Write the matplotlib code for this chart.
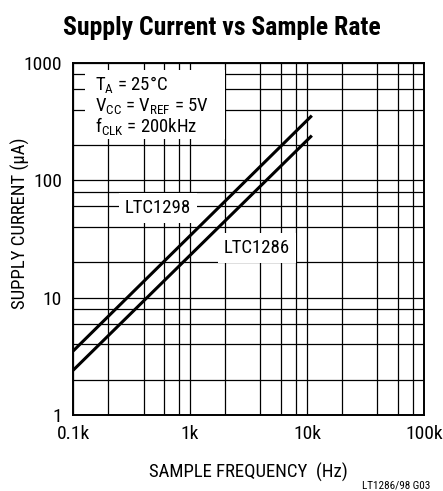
import matplotlib
matplotlib.use('Agg')
import matplotlib.pyplot as plt
from matplotlib.patches import Rectangle
from matplotlib.ticker import FixedLocator, NullFormatter

plt.rcParams['font.family'] = ['Roboto Condensed', 'Liberation Sans', 'DejaVu Sans']
plt.rcParams['mathtext.fontset'] = 'custom'
plt.rcParams['mathtext.rm'] = 'Roboto Condensed'

# data
freq_hz = [100, 11000]
ltc1298_ua = [3.5, 355]
ltc1286_ua = [2.4, 240]

x_ticks = [100, 1000, 10000, 100000]
x_ticklabels = ['0.1k', '1k', '10k', '100k']
y_ticks = [1, 10, 100, 1000]
y_ticklabels = ['1', '10', '100', '1000']
minor_mult = [2, 4, 6, 8]

conditions = ['T$_\\mathregular{A}$ = 25°C',
              'V$_\\mathregular{CC}$ = V$_\\mathregular{REF}$ = 5V',
              'f$_\\mathregular{CLK}$ = 200kHz']

fig = plt.figure(figsize=(4.43, 4.91), dpi=100)
ax = fig.add_axes([0.165, 0.155, 0.792, 0.717])

ax.plot(freq_hz, ltc1298_ua, color='black', lw=2.2, solid_capstyle='butt', zorder=4)
ax.plot(freq_hz, ltc1286_ua, color='black', lw=2.2, solid_capstyle='butt', zorder=4)

ax.set_xscale('log')
ax.set_yscale('log')
ax.set_xlim(100, 100000)
ax.set_ylim(1, 1000)

ax.xaxis.set_major_locator(FixedLocator(x_ticks))
ax.yaxis.set_major_locator(FixedLocator(y_ticks))
ax.xaxis.set_minor_locator(FixedLocator([m * d for d in x_ticks[:-1] for m in minor_mult]))
ax.yaxis.set_minor_locator(FixedLocator([m * d for d in y_ticks[:-1] for m in minor_mult]))
ax.xaxis.set_minor_formatter(NullFormatter())
ax.yaxis.set_minor_formatter(NullFormatter())
ax.set_xticklabels(x_ticklabels, fontsize=14)
ax.set_yticklabels(y_ticklabels, fontsize=14)
ax.tick_params(which='both', length=0)
ax.tick_params(axis='x', pad=7.5)
ax.tick_params(axis='y', pad=8)

ax.set_axisbelow(True)
ax.grid(which='both', color='black', lw=0.9)
for s in ax.spines.values():
    s.set_linewidth(1.4)

ax.set_xlabel('SAMPLE FREQUENCY  (Hz)', fontsize=13.5)
ax.xaxis.set_label_coords(0.5, -0.162)
ax.xaxis.label.set_va('center')
ax.set_ylabel('SUPPLY CURRENT (µA)', fontsize=13.5)
ax.yaxis.set_label_coords(-0.151, 0.545)
ax.yaxis.label.set_va('center')

fig.text(0.5, 0.943, 'Supply Current vs Sample Rate', ha='center', va='center',
         fontsize=18.5, fontweight='bold')

# white panel behind the test conditions
ax.add_patch(Rectangle((0.034, 0.783), 0.4, 0.197, transform=ax.transAxes,
                       facecolor='white', edgecolor='none', zorder=2.5))
for txt, yb in zip(conditions, [0.920, 0.860, 0.803]):
    ax.text(0.063, yb, txt, transform=ax.transAxes, ha='left', va='baseline',
            fontsize=13.5, zorder=3)

ax.text(0.242, 0.588, 'LTC1298', transform=ax.transAxes, ha='center', va='center',
        fontsize=13.5, bbox=dict(facecolor='white', edgecolor='none', pad=4), zorder=3)
ax.text(0.524, 0.474, 'LTC1286', transform=ax.transAxes, ha='center', va='center',
        fontsize=13.5, bbox=dict(facecolor='white', edgecolor='none', pad=4), zorder=3)

fig.text(0.971, 0.002, 'LT1286/98 G03', ha='right', va='bottom', fontsize=8)

fig.savefig('out.png', dpi=100)
